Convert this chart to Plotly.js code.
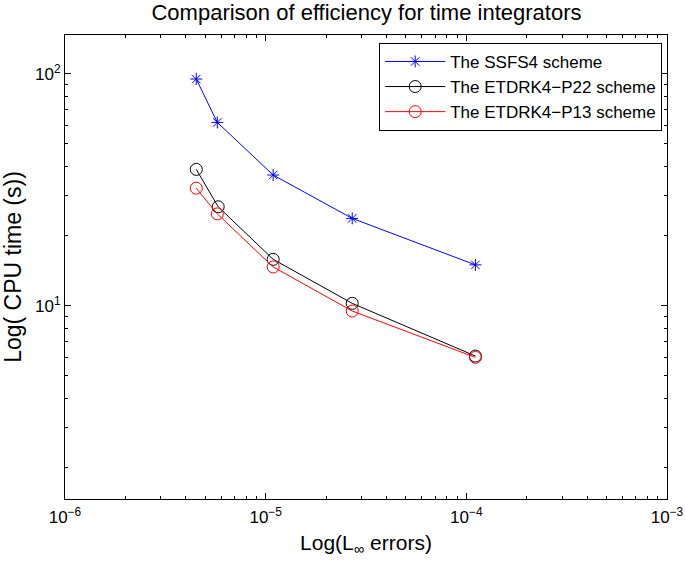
<!DOCTYPE html>
<html>
<head>
<meta charset="utf-8">
<script src="https://cdn.plot.ly/plotly-3.0.1.min.js"></script>
<style>html,body{margin:0;padding:0;background:#fff;}#chart{width:685px;height:565px;}</style>
</head>
<body>
<div id="chart"></div>
<script>
// Data (log-log)
const ssfs4Err = [4.51e-6, 5.74e-6, 1.09e-5, 2.70e-5, 1.11e-4];
const ssfs4Cpu = [94.9, 61.7, 36.6, 23.8, 15.0];
const p22Err = [4.51e-6, 5.80e-6, 1.09e-5, 2.70e-5, 1.11e-4];
const p22Cpu = [38.7, 26.7, 15.85, 10.24, 6.07];
const p13Err = [4.51e-6, 5.74e-6, 1.09e-5, 2.70e-5, 1.11e-4];
const p13Cpu = [32.1, 24.9, 14.7, 9.49, 5.99];
const seriesNames = ['The SSFS4 scheme', 'The ETDRK4\u2212P22 scheme', 'The ETDRK4\u2212P13 scheme'];
const xTickVals = [1e-6, 1e-5, 1e-4, 1e-3];
const xTickText = ['10<sup>\u22126</sup>', '10<sup>\u22125</sup>', '10<sup>\u22124</sup>', '10<sup>\u22123</sup>'];
const yTickVals = [10, 100];
const yTickText = ['10<sup>1</sup>', '10<sup>2</sup>'];

function minorVals(lo, hi) {
  const out = [];
  for (let e = lo; e < hi; e++) {
    for (let d = 2; d <= 9; d++) out.push(d * Math.pow(10, e));
  }
  return out;
}

const font = 'Liberation Sans, Arial, Helvetica, sans-serif';

const traces = [
  {x: ssfs4Err, y: ssfs4Cpu, name: seriesNames[0], mode: 'lines+markers',
   line: {color: '#0000ff', width: 1},
   marker: {symbol: 'asterisk-open', size: 10, color: '#0000ff', line: {color: '#0000ff', width: 1}}},
  {x: p22Err, y: p22Cpu, name: seriesNames[1], mode: 'lines+markers',
   line: {color: '#000000', width: 1},
   marker: {symbol: 'circle-open', size: 12, color: '#000000', line: {color: '#000000', width: 1}}},
  {x: p13Err, y: p13Cpu, name: seriesNames[2], mode: 'lines+markers',
   line: {color: '#ff0000', width: 1},
   marker: {symbol: 'circle-open', size: 12, color: '#ff0000', line: {color: '#ff0000', width: 1}}}
];

const axisCommon = {
  type: 'log', showgrid: false, zeroline: false,
  showline: true, linecolor: '#000', linewidth: 1, mirror: 'allticks',
  ticks: 'inside', ticklen: 6, tickwidth: 1, tickcolor: '#000',
  tickmode: 'array',
  tickfont: {family: font, size: 17, color: '#000'}
};

const layout = {
  width: 685, height: 565,
  margin: {l: 65, r: 18, t: 35, b: 66},
  paper_bgcolor: '#fff', plot_bgcolor: '#fff',
  font: {family: font, color: '#000'},
  showlegend: true,
  title: {text: 'Comparison of efficiency for time integrators', font: {family: font, size: 22, color: '#000'},
          x: 0.535, xanchor: 'center', y: 0.978, yanchor: 'middle'},
  xaxis: Object.assign({}, axisCommon, {
    range: [-6, -3], tickvals: xTickVals, ticktext: xTickText, ticklabelstandoff: 3,
    minor: {tickmode: 'array', tickvals: minorVals(-6, -3), ticks: 'inside', ticklen: 3, tickcolor: '#000', showgrid: false},
    title: {text: 'Log(L<sub>\u221e</sub> errors)', font: {family: font, size: 21, color: '#000'}, standoff: 8}
  }),
  yaxis: Object.assign({}, axisCommon, {
    range: [0.167, 2.167], tickvals: yTickVals, ticktext: yTickText,
    minor: {tickmode: 'array', tickvals: minorVals(0, 3), ticks: 'inside', ticklen: 3, tickcolor: '#000', showgrid: false},
    title: {text: 'Log( CPU time (s))', font: {family: font, size: 23, color: '#000'}, standoff: 10}
  }),
  legend: {x: 0.992, xanchor: 'right', y: 0.983, yanchor: 'top',
           bgcolor: '#fff', bordercolor: '#000', borderwidth: 1, itemwidth: 60,
           font: {family: font, size: 17, color: '#000'}, tracegroupgap: 0}
};

Plotly.newPlot('chart', traces, layout, {staticPlot: true, displayModeBar: false});
</script>
</body>
</html>
